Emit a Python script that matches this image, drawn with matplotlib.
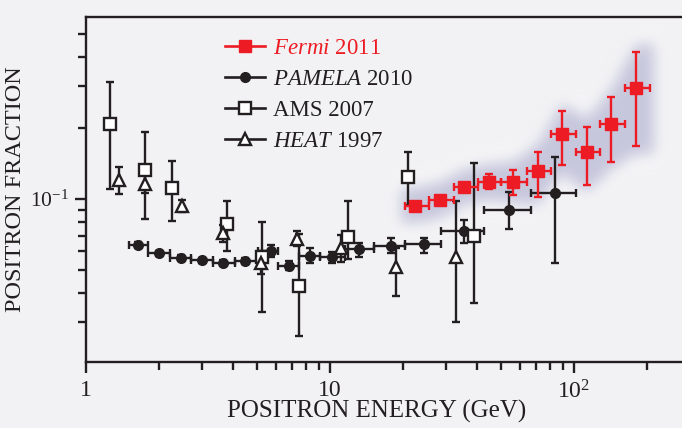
import numpy as np
import matplotlib
matplotlib.use("Agg")
import matplotlib.pyplot as plt
from matplotlib.lines import Line2D
from matplotlib.path import Path
from matplotlib.ticker import FixedLocator, NullFormatter, FixedFormatter

plt.rcParams['font.family'] = ['Liberation Serif', 'DejaVu Serif']
plt.rcParams['mathtext.fontset'] = 'custom'
plt.rcParams['mathtext.rm'] = 'Liberation Serif'
plt.rcParams['mathtext.it'] = 'Liberation Serif:italic'

# ---------------- data ----------------
pamela_x = [1.64, 1.99, 2.44, 2.98, 3.66, 4.50, 5.71, 6.81, 8.30, 10.2, 13.2, 17.7, 24.2, 35.3, 54.0, 83.8]
pamela_y = [0.0637, 0.0589, 0.0564, 0.0550, 0.0537, 0.0546, 0.0603, 0.0521, 0.0574, 0.0566, 0.0612, 0.0630, 0.0645, 0.0733, 0.0898, 0.1057]
pamela_lo = [0.0620, 0.0575, 0.0551, 0.0537, 0.0524, 0.0532, 0.0566, 0.0500, 0.0535, 0.0534, 0.0566, 0.0589, 0.0590, 0.0653, 0.0746, 0.0534]
pamela_hi = [0.0655, 0.0603, 0.0577, 0.0563, 0.0550, 0.0560, 0.0638, 0.0545, 0.0618, 0.0598, 0.0654, 0.0682, 0.0682, 0.0815, 0.1074, 0.1502]
pamela_edges = [1.50, 1.80, 2.20, 2.69, 3.30, 4.08, 5.06, 6.13, 7.49, 9.12, 11.5, 15.1, 20.3, 28.4, 42.7, 66.5, 102.0]

ams_x = [1.25, 1.75, 2.25, 3.77, 5.25, 7.44, 11.9, 20.8, 38.8]
ams_y = [0.208, 0.1327, 0.1113, 0.0781, 0.0570, 0.0430, 0.0692, 0.1236, 0.0697]
ams_lo = [0.1099, 0.0823, 0.0809, 0.0602, 0.0333, 0.0263, 0.0555, 0.0943, 0.0361]
ams_hi = [0.314, 0.193, 0.145, 0.0984, 0.0797, 0.0710, 0.0984, 0.1586, 0.1425]

heat_x = [1.36, 1.75, 2.47, 3.63, 5.20, 7.30, 11.06, 18.6, 32.7]
heat_y = [0.1204, 0.1157, 0.0934, 0.0716, 0.0535, 0.0680, 0.0618, 0.0515, 0.0566]
heat_lo = [0.1050, 0.1060, 0.0884, 0.0660, 0.0480, 0.0635, 0.0543, 0.0390, 0.0302]
heat_hi = [0.1360, 0.1260, 0.0990, 0.0775, 0.0600, 0.0730, 0.0704, 0.0620, 0.0984]

fermi_x = [22.3, 28.1, 35.5, 44.7, 56.4, 71.0, 89.6, 112.7, 141.8, 179.5]
fermi_y = [0.0937, 0.0987, 0.1124, 0.1184, 0.1184, 0.131, 0.188, 0.158, 0.207, 0.296]
fermi_lo = [0.0915, 0.0965, 0.1100, 0.1102, 0.1040, 0.1017, 0.139, 0.1146, 0.144, 0.168]
fermi_hi = [0.0960, 0.1010, 0.1150, 0.1273, 0.1327, 0.158, 0.236, 0.202, 0.271, 0.421]
fermi_edges = [20.3, 25.5, 32.1, 40.4, 50.1, 64.0, 80.7, 101.9, 128.3, 161.8, 204.9]

legend_labels = [r'$\mathit{Fermi}$ 2011', r'$\mathit{PAMELA}$ 2010', 'AMS 2007', r'$\mathit{HEAT}$ 1997']
x_tick_vals = [1, 10, 100]
x_tick_labels = ['1', '10', r'$10^2$']
y_tick_vals = [0.1]
y_tick_labels = [r'$10^{-1}$']

# ---------------- style ----------------
BG = '#f2f2f4'
INK = '#231f20'
RED = '#ed1c24'

W_PX, H_PX = 682, 428
fig = plt.figure(figsize=(W_PX / 100, H_PX / 100), dpi=100, facecolor=BG)
ax_l, ax_b, ax_r, ax_t = 86, 428 - 362, 682, 428 - 17
ax = fig.add_axes([ax_l / W_PX, ax_b / H_PX, (ax_r - ax_l) / W_PX, (ax_t - ax_b) / H_PX])
ax.set_facecolor('none')
ax.set_xscale('log')
ax.set_yscale('log')
ax.set_xlim(1, 277)
ax.set_ylim(0.0204, 0.59)

# ---------------- glow band behind Fermi points ----------------
def gauss_blur(a, sigma):
    r = int(3 * sigma)
    k = np.exp(-0.5 * (np.arange(-r, r + 1) / sigma) ** 2)
    k /= k.sum()
    a = np.apply_along_axis(lambda m: np.convolve(m, k, mode='same'), 0, a)
    a = np.apply_along_axis(lambda m: np.convolve(m, k, mode='same'), 1, a)
    return a

def band_mask(pad_px, scale):
    fx = np.array(fermi_x); fy = np.array(fermi_y)
    hi = np.maximum(np.array(fermi_hi), fy * scale)
    lo = np.minimum(np.array(fermi_lo), fy / scale)
    ex = np.array(fermi_edges)
    up_x = np.concatenate([[ex[0]], fx, [ex[-1]]])
    up_y = np.concatenate([[hi[0]], hi, [hi[-1]]])
    lo_y = np.concatenate([[lo[0]], lo, [lo[-1]]])
    up = ax.transData.transform(np.column_stack([up_x, up_y]))
    dn = ax.transData.transform(np.column_stack([up_x, lo_y]))
    up[:, 1] += pad_px; dn[:, 1] -= pad_px
    up[0, 0] -= pad_px * 0.6; dn[0, 0] -= pad_px * 0.6
    up[-1, 0] += pad_px * 0.6; dn[-1, 0] += pad_px * 0.6
    verts = np.vstack([up, dn[::-1]])
    path = Path(verts)
    bb = ax.bbox
    W = int(round(bb.width)); H = int(round(bb.height))
    xs = bb.x0 + np.arange(W) + 0.5
    ys = bb.y0 + np.arange(H) + 0.5
    XX, YY = np.meshgrid(xs, ys)
    inside = path.contains_points(np.column_stack([XX.ravel(), YY.ravel()])).reshape(H, W)
    return inside.astype(float)

halo = gauss_blur(band_mask(18, 1.10), 9)
core = gauss_blur(band_mask(9, 1.10), 7)
img_h = np.zeros(halo.shape + (4,))
img_h[..., :3] = 1.0
img_h[..., 3] = np.clip(halo * 0.75, 0, 1)
img_c = np.zeros(core.shape + (4,))
img_c[..., 0] = 0.77; img_c[..., 1] = 0.77; img_c[..., 2] = 0.86
img_c[..., 3] = np.clip(core * 0.95, 0, 1)
for im in (img_h, img_c):
    ax.imshow(im, origin='lower', extent=(0, 1, 0, 1), transform=ax.transAxes,
              aspect='auto', interpolation='bilinear', zorder=0.5)
ax.set_xlim(1, 277)
ax.set_ylim(0.0204, 0.59)

# ---------------- data series ----------------
ELW = 1.7
CAP = 2.7

def yerr(y, lo, hi):
    y = np.array(y)
    return np.vstack([y - np.array(lo), np.array(hi) - y])

pe = np.array(pamela_edges)
px = np.array(pamela_x)
ax.errorbar(pamela_x, pamela_y, yerr=yerr(pamela_y, pamela_lo, pamela_hi),
            xerr=np.vstack([px - pe[:-1], pe[1:] - px]),
            fmt='o', ms=7, color=INK, mfc=INK, mec=INK, ecolor=INK,
            elinewidth=ELW, capsize=CAP, capthick=ELW, zorder=3)

ax.errorbar(ams_x, ams_y, yerr=yerr(ams_y, ams_lo, ams_hi),
            fmt='s', ms=8, color=INK, mfc='white', mec=INK, mew=1.7, ecolor=INK,
            elinewidth=ELW, capsize=CAP, capthick=ELW, zorder=4)

ax.errorbar(heat_x, heat_y, yerr=yerr(heat_y, heat_lo, heat_hi),
            fmt='^', ms=8, color=INK, mfc='white', mec=INK, mew=1.7, ecolor=INK,
            elinewidth=ELW, capsize=CAP, capthick=ELW, zorder=4)

fe = np.array(fermi_edges)
fx = np.array(fermi_x)
ax.errorbar(fermi_x, fermi_y, yerr=yerr(fermi_y, fermi_lo, fermi_hi),
            xerr=np.vstack([fx - fe[:-1], fe[1:] - fx]),
            fmt='s', ms=8, color=RED, mfc=RED, mec=RED, ecolor=RED,
            elinewidth=ELW, capsize=CAP, capthick=ELW, zorder=5)

# ---------------- axes styling ----------------
ax.spines['right'].set_visible(False)
for s in ('left', 'bottom', 'top'):
    ax.spines[s].set_linewidth(1.7)
    ax.spines[s].set_color(INK)

ax.xaxis.set_major_locator(FixedLocator(x_tick_vals))
ax.xaxis.set_major_formatter(FixedFormatter(x_tick_labels))
ax.xaxis.set_minor_locator(FixedLocator([m * 10 ** k for k in range(0, 3) for m in range(2, 10)]))
ax.xaxis.set_minor_formatter(NullFormatter())
ax.yaxis.set_major_locator(FixedLocator(y_tick_vals))
ax.yaxis.set_major_formatter(FixedFormatter(y_tick_labels))
ax.yaxis.set_minor_locator(FixedLocator([m * 10 ** k for k in (-2, -1) for m in range(2, 10)]))
ax.yaxis.set_minor_formatter(NullFormatter())
ax.tick_params(axis='both', which='major', direction='out', length=8, width=1.7,
               color=INK, labelcolor=INK, labelsize=17, pad=5)
ax.tick_params(axis='y', which='major', labelsize=15.5, pad=4)
ax.tick_params(axis='both', which='minor', direction='out', length=5.5, width=1.7, color=INK)
ax.tick_params(axis='x', which='both', top=False)
ax.tick_params(axis='y', which='both', right=False)

ax.set_xlabel('POSITRON ENERGY (GeV)', fontsize=18, color=INK)
ax.set_ylabel('POSITRON FRACTION', fontsize=17.5, color=INK)
ax.xaxis.set_label_coords(0.487, -0.110)
ax.yaxis.set_label_coords(-0.100, 0.50)

# ---------------- legend ----------------
handles = [
    Line2D([], [], color=RED, lw=1.9, marker='s', ms=8, mfc=RED, mec=RED),
    Line2D([], [], color=INK, lw=1.9, marker='o', ms=7, mfc=INK, mec=INK),
    Line2D([], [], color=INK, lw=1.9, marker='s', ms=8, mfc='white', mec=INK, mew=1.7),
    Line2D([], [], color=INK, lw=1.9, marker='^', ms=8, mfc='white', mec=INK, mew=1.7),
]
LFS = 16.5
leg = ax.legend(handles, legend_labels, loc='upper left',
                bbox_to_anchor=((225 - 86) / 596, (362 - 38) / 345),
                frameon=False, fontsize=LFS, handlelength=1.75, handletextpad=0.35,
                labelspacing=0.43, borderpad=0, borderaxespad=0, numpoints=1)
for t, c in zip(leg.get_texts(), [RED, INK, INK, INK]):
    t.set_color(c)

fig.savefig('out.png', dpi=100, facecolor=BG)
